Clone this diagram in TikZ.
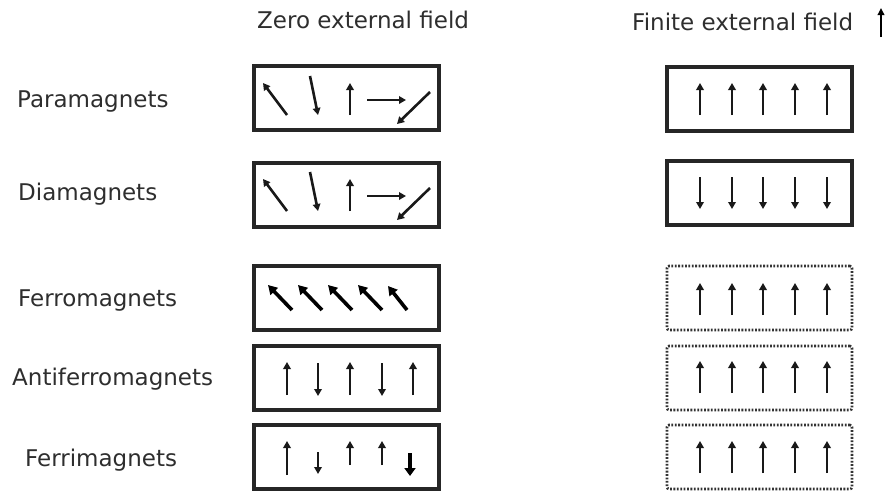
\documentclass[tikz,border=0pt]{standalone}
\usepackage{fontspec}
\setmainfont{DejaVu Sans}
\usetikzlibrary{arrows.meta}
\begin{document}
\begin{tikzpicture}[x=1pt,y=-1pt,
  lbl/.style={anchor=base west,inner sep=0pt,font=\fontsize{23}{26}\selectfont,text=black!82},
  solidbox/.style={draw=black!85,line width=3.2pt,inner sep=0pt,minimum width=185pt,minimum height=64pt},
  dotbox/.style={draw=black!80,line width=2.6pt,dash pattern=on 1.8pt off 1.6pt,rounded corners=2pt,inner sep=0pt,minimum width=185pt,minimum height=64pt},
  spin/.style={line width=2.6pt,draw=black!90,-{Triangle[length=7pt,width=7.5pt]}},
  bigspin/.style={line width=3.6pt,draw=black,-{Triangle[length=9pt,width=10pt]}}
]
\useasboundingbox (0,0) rectangle (886,490);

% column headers
\node[lbl] (hzero) at (257,28) {Zero external field};
\node[lbl] (hfin) at (632,30) {Finite external field};
\draw[line width=2.6pt,-{Triangle[length=7pt,width=6.5pt]}] (881,37) -- (881,8);

% row labels
\node[lbl] (lpara) at (17,107) {Paramagnets};
\node[lbl] (ldia) at (18,200) {Diamagnets};
\node[lbl] (lferro) at (18,306) {Ferromagnets};
\node[lbl] (lanti) at (12,385) {Antiferromagnets};
\node[lbl] (lferri) at (25,466) {Ferrimagnets};

% zero-field boxes
\node[solidbox] (z1) at (346.5,98) {};
\node[solidbox] (z2) at (346.5,195) {};
\node[solidbox] (z3) at (346.5,298) {};
\node[solidbox] (z4) at (346.5,378) {};
\node[solidbox] (z5) at (346.5,457) {};

% finite-field boxes
\node[solidbox] (f1) at (759.5,99) {};
\node[solidbox] (f2) at (759.5,193) {};
\node[dotbox] (f3) at (759.5,298) {};
\node[dotbox] (f4) at (759.5,378) {};
\node[dotbox] (f5) at (759.5,457) {};

% paramagnets and diamagnets, zero field: random orientations
\foreach \dy in {0,96}{
  \draw[spin] (287,115+\dy) -- (263,83+\dy);
  \draw[spin] (310,76+\dy) -- (318,115+\dy);
  \draw[spin] (350,115+\dy) -- (350,83+\dy);
  \draw[spin] (367,100+\dy) -- (406,100+\dy);
  \draw[spin] (430,92+\dy) -- (397,124+\dy);
}

% ferromagnets, zero field: aligned domain
\foreach \x in {0,30,60,90}{
  \draw[bigspin] (292+\x,310) -- (268+\x,285);
}
\draw[bigspin] (407,310) -- (388,286);

% antiferromagnets, zero field
\draw[spin] (287,395) -- (287,362);
\draw[spin] (318,363) -- (318,396);
\draw[spin] (350,395) -- (350,362);
\draw[spin] (382,363) -- (382,396);
\draw[spin] (413,395) -- (413,362);

% ferrimagnets, zero field
\draw[spin] (287,475) -- (287,441);
\draw[spin] (318,452) -- (318,474);
\draw[spin] (350,465) -- (350,441);
\draw[spin] (382,465) -- (382,441);
\draw[line width=3.8pt,-{Triangle[length=8pt,width=11pt]}] (410,453) -- (410,476);

% finite field
\foreach \x in {700,732,763,795,827}{
  \draw[spin] (\x,115) -- (\x,83);
  \draw[spin] (\x,177) -- (\x,209);
  \draw[spin] (\x,315) -- (\x,283);
  \draw[spin] (\x,393) -- (\x,361);
  \draw[spin] (\x,473) -- (\x,441);
}
\end{tikzpicture}
\end{document}
